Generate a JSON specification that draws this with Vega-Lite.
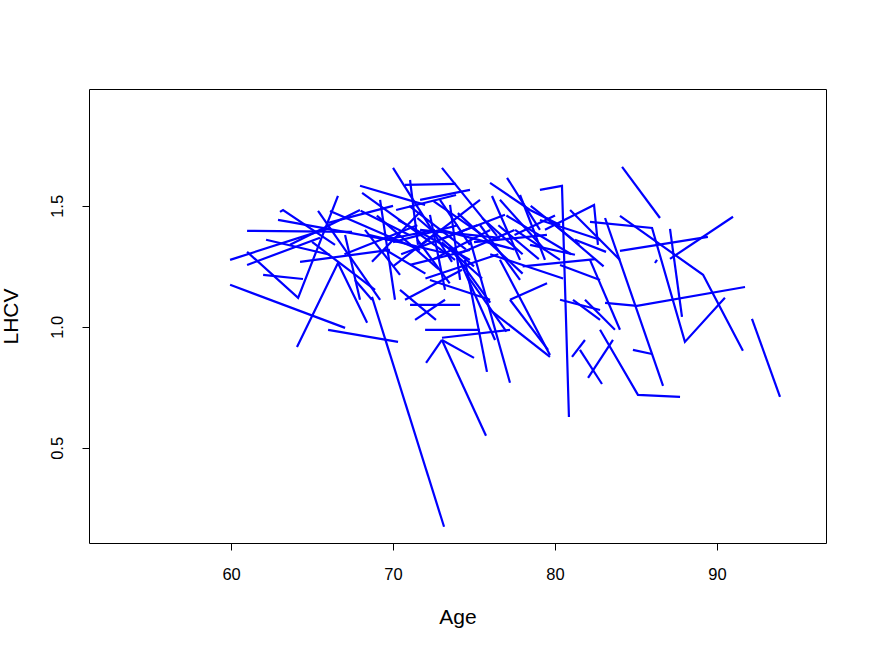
{
  "$schema": "https://vega.github.io/schema/vega-lite/v6.json",
  "width": 737,
  "height": 454,
  "autosize": "none",
  "padding": {"left": 89, "top": 89, "right": 46, "bottom": 111},
  "background": "white",
  "config": {
    "font": "Liberation Sans",
    "view": {"stroke": "black", "strokeWidth": 1},
    "axis": {"grid": false, "domain": false, "tickColor": "black", "tickSize": 7, "tickWidth": 1,
             "labelColor": "black", "titleColor": "black", "labelFont": "Liberation Sans", "titleFont": "Liberation Sans",
             "labelFontSize": 16.5, "titleFontSize": 21, "titleFontWeight": "normal"}
  },
  "data": {"values": [
    {"id":1,"age":59.94,"lhcv":1.174},{"id":1,"age":67.04,"lhcv":0.996},
    {"id":2,"age":65.99,"lhcv":0.988},{"id":2,"age":70.31,"lhcv":0.938},
    {"id":3,"age":64.07,"lhcv":0.917},{"id":3,"age":66.6,"lhcv":1.264},{"id":3,"age":68.4,"lhcv":1.017},
    {"id":4,"age":60.99,"lhcv":1.31},{"id":4,"age":64.14,"lhcv":1.12},{"id":4,"age":66.6,"lhcv":1.541},
    {"id":5,"age":59.94,"lhcv":1.277},{"id":5,"age":66.11,"lhcv":1.409},
    {"id":6,"age":60.99,"lhcv":1.397},{"id":6,"age":67.47,"lhcv":1.393},
    {"id":7,"age":61.98,"lhcv":1.215},{"id":7,"age":64.44,"lhcv":1.198},
    {"id":8,"age":63.02,"lhcv":1.475},{"id":8,"age":63.21,"lhcv":1.483},{"id":8,"age":66.42,"lhcv":1.339},
    {"id":9,"age":60.99,"lhcv":1.256},{"id":9,"age":65.49,"lhcv":1.368},
    {"id":10,"age":62.9,"lhcv":1.442},{"id":10,"age":70.43,"lhcv":1.351},
    {"id":11,"age":63.64,"lhcv":1.339},{"id":11,"age":67.96,"lhcv":1.483},
    {"id":12,"age":64.26,"lhcv":1.269},{"id":12,"age":69.81,"lhcv":1.318},
    {"id":13,"age":62.16,"lhcv":1.36},{"id":13,"age":66.11,"lhcv":1.298},
    {"id":14,"age":65.0,"lhcv":1.351},{"id":14,"age":68.89,"lhcv":1.153},
    {"id":15,"age":65.37,"lhcv":1.479},{"id":15,"age":69.2,"lhcv":1.112},
    {"id":16,"age":66.11,"lhcv":1.479},{"id":16,"age":71.67,"lhcv":1.318},
    {"id":17,"age":67.04,"lhcv":1.38},{"id":17,"age":67.96,"lhcv":1.112},
    {"id":18,"age":67.65,"lhcv":1.194},{"id":18,"age":68.7,"lhcv":1.112},
    {"id":19,"age":67.96,"lhcv":1.583},{"id":19,"age":71.98,"lhcv":1.504},
    {"id":20,"age":68.09,"lhcv":1.554},{"id":20,"age":73.83,"lhcv":1.277},
    {"id":21,"age":68.7,"lhcv":1.124},{"id":21,"age":73.15,"lhcv":0.174},
    {"id":22,"age":68.27,"lhcv":1.401},{"id":22,"age":70.43,"lhcv":1.215},
    {"id":23,"age":68.7,"lhcv":1.269},{"id":23,"age":71.67,"lhcv":1.475},
    {"id":24,"age":69.2,"lhcv":1.525},{"id":24,"age":70.12,"lhcv":1.112},
    {"id":25,"age":69.51,"lhcv":1.36},{"id":25,"age":72.59,"lhcv":1.401},
    {"id":26,"age":70.0,"lhcv":1.657},{"id":26,"age":73.64,"lhcv":1.269},
    {"id":27,"age":73.02,"lhcv":1.657},{"id":27,"age":76.42,"lhcv":1.376},
    {"id":28,"age":71.05,"lhcv":1.607},{"id":28,"age":71.54,"lhcv":1.339},
    {"id":29,"age":70.74,"lhcv":1.587},{"id":29,"age":73.89,"lhcv":1.591},
    {"id":30,"age":71.67,"lhcv":1.525},{"id":30,"age":74.75,"lhcv":1.566},
    {"id":31,"age":70.19,"lhcv":1.483},{"id":31,"age":73.89,"lhcv":1.545},
    {"id":32,"age":70.31,"lhcv":1.442},{"id":32,"age":74.75,"lhcv":1.277},
    {"id":33,"age":71.36,"lhcv":1.318},{"id":33,"age":75.37,"lhcv":1.525},
    {"id":34,"age":72.28,"lhcv":1.463},{"id":34,"age":73.21,"lhcv":1.153},
    {"id":35,"age":72.9,"lhcv":1.525},{"id":35,"age":74.75,"lhcv":1.339},
    {"id":36,"age":71.67,"lhcv":1.401},{"id":36,"age":76.6,"lhcv":1.368},
    {"id":37,"age":72.9,"lhcv":1.36},{"id":37,"age":76.91,"lhcv":1.463},
    {"id":38,"age":73.52,"lhcv":1.504},{"id":38,"age":74.14,"lhcv":1.194},
    {"id":39,"age":71.05,"lhcv":1.256},{"id":39,"age":74.75,"lhcv":1.318},
    {"id":40,"age":72.28,"lhcv":1.194},{"id":40,"age":75.99,"lhcv":1.112},
    {"id":41,"age":70.74,"lhcv":1.112},{"id":41,"age":74.26,"lhcv":1.236},
    {"id":42,"age":70.43,"lhcv":1.153},{"id":42,"age":72.65,"lhcv":1.029},
    {"id":43,"age":71.36,"lhcv":1.029},{"id":43,"age":73.21,"lhcv":1.112},
    {"id":44,"age":71.98,"lhcv":0.988},{"id":44,"age":75.37,"lhcv":0.988},
    {"id":45,"age":73.02,"lhcv":0.946},{"id":45,"age":75.74,"lhcv":0.55},
    {"id":46,"age":72.04,"lhcv":0.851},{"id":46,"age":73.02,"lhcv":0.946},
    {"id":47,"age":73.02,"lhcv":0.946},{"id":47,"age":75.0,"lhcv":0.872},
    {"id":48,"age":73.83,"lhcv":1.318},{"id":48,"age":76.3,"lhcv":0.946},
    {"id":49,"age":74.44,"lhcv":1.277},{"id":49,"age":75.8,"lhcv":0.814},
    {"id":50,"age":74.75,"lhcv":1.36},{"id":50,"age":77.22,"lhcv":0.769},
    {"id":51,"age":75.37,"lhcv":1.421},{"id":51,"age":77.84,"lhcv":1.194},
    {"id":52,"age":75.99,"lhcv":1.595},{"id":52,"age":78.46,"lhcv":1.483},{"id":52,"age":80.31,"lhcv":1.421},
    {"id":53,"age":76.11,"lhcv":1.541},{"id":53,"age":77.84,"lhcv":1.277},
    {"id":54,"age":77.04,"lhcv":1.616},{"id":54,"age":79.07,"lhcv":1.401},
    {"id":55,"age":76.6,"lhcv":1.525},{"id":55,"age":79.38,"lhcv":1.318},
    {"id":56,"age":77.84,"lhcv":1.545},{"id":56,"age":79.38,"lhcv":1.277},
    {"id":57,"age":79.07,"lhcv":1.566},{"id":57,"age":80.43,"lhcv":1.583},{"id":57,"age":80.86,"lhcv":0.628},
    {"id":58,"age":77.53,"lhcv":1.401},{"id":58,"age":80.31,"lhcv":1.277},
    {"id":59,"age":78.46,"lhcv":1.339},{"id":59,"age":81.23,"lhcv":1.298},
    {"id":60,"age":76.6,"lhcv":1.277},{"id":60,"age":79.69,"lhcv":0.884},
    {"id":61,"age":77.22,"lhcv":1.112},{"id":61,"age":79.57,"lhcv":0.905},
    {"id":62,"age":79.07,"lhcv":1.442},{"id":62,"age":82.78,"lhcv":1.36},
    {"id":63,"age":79.38,"lhcv":1.401},{"id":63,"age":82.41,"lhcv":1.504},{"id":63,"age":82.65,"lhcv":1.339},
    {"id":64,"age":80.31,"lhcv":1.256},{"id":64,"age":82.78,"lhcv":1.194},
    {"id":65,"age":80.93,"lhcv":1.483},{"id":65,"age":84.01,"lhcv":1.277},
    {"id":66,"age":81.23,"lhcv":1.36},{"id":66,"age":83.15,"lhcv":1.31},
    {"id":67,"age":81.05,"lhcv":0.876},{"id":67,"age":81.85,"lhcv":0.946},
    {"id":68,"age":82.04,"lhcv":0.789},{"id":68,"age":83.58,"lhcv":0.946},
    {"id":69,"age":81.54,"lhcv":0.905},{"id":69,"age":82.9,"lhcv":0.764},
    {"id":70,"age":82.16,"lhcv":1.434},{"id":70,"age":85.99,"lhcv":1.409},{"id":70,"age":88.02,"lhcv":0.938},{"id":70,"age":90.49,"lhcv":1.12},
    {"id":71,"age":84.01,"lhcv":1.459},{"id":71,"age":89.14,"lhcv":1.215},{"id":71,"age":91.6,"lhcv":0.901},
    {"id":72,"age":83.09,"lhcv":1.099},{"id":72,"age":85.06,"lhcv":1.087},{"id":72,"age":91.73,"lhcv":1.165},
    {"id":73,"age":84.14,"lhcv":1.661},{"id":73,"age":86.48,"lhcv":1.45},
    {"id":74,"age":92.16,"lhcv":1.033},{"id":74,"age":93.89,"lhcv":0.711},
    {"id":75,"age":87.1,"lhcv":1.405},{"id":75,"age":87.84,"lhcv":1.041},
    {"id":76,"age":87.1,"lhcv":1.281},{"id":76,"age":90.99,"lhcv":1.455},
    {"id":77,"age":84.01,"lhcv":1.314},{"id":77,"age":89.44,"lhcv":1.372},
    {"id":78,"age":82.78,"lhcv":0.988},{"id":78,"age":85.12,"lhcv":0.719},{"id":78,"age":87.72,"lhcv":0.711},
    {"id":79,"age":84.81,"lhcv":0.905},{"id":79,"age":85.99,"lhcv":0.888},
    {"id":80,"age":86.17,"lhcv":1.264},{"id":80,"age":86.3,"lhcv":1.277},
    {"id":81,"age":83.09,"lhcv":1.45},{"id":81,"age":86.67,"lhcv":0.756},
    {"id":82,"age":82.16,"lhcv":1.277},{"id":82,"age":84.01,"lhcv":0.988},
    {"id":83,"age":81.85,"lhcv":1.112},{"id":83,"age":83.7,"lhcv":0.988},
    {"id":84,"age":80.31,"lhcv":1.112},{"id":84,"age":82.78,"lhcv":1.07},
    {"id":85,"age":71.05,"lhcv":1.091},{"id":85,"age":74.14,"lhcv":1.091},
    {"id":86,"age":73.02,"lhcv":0.955},{"id":86,"age":77.22,"lhcv":0.988},
    {"id":87,"age":81.11,"lhcv":1.112},{"id":87,"age":82.78,"lhcv":1.029},
    {"id":88,"age":77.22,"lhcv":1.112},{"id":88,"age":79.51,"lhcv":1.18},
    {"id":89,"age":75.99,"lhcv":1.07},{"id":89,"age":79.69,"lhcv":0.876},
    {"id":90,"age":68.5,"lhcv":1.38},{"id":90,"age":73.5,"lhcv":1.30},
    {"id":91,"age":69.0,"lhcv":1.46},{"id":91,"age":72.8,"lhcv":1.24},
    {"id":92,"age":70.5,"lhcv":1.30},{"id":92,"age":75.2,"lhcv":1.42},
    {"id":93,"age":71.5,"lhcv":1.45},{"id":93,"age":75.0,"lhcv":1.25},
    {"id":94,"age":72.0,"lhcv":1.20},{"id":94,"age":76.5,"lhcv":1.30},
    {"id":95,"age":73.0,"lhcv":1.40},{"id":95,"age":77.5,"lhcv":1.32},
    {"id":96,"age":74.0,"lhcv":1.47},{"id":96,"age":78.0,"lhcv":1.22},
    {"id":97,"age":75.0,"lhcv":1.35},{"id":97,"age":79.5,"lhcv":1.38},
    {"id":98,"age":76.0,"lhcv":1.30},{"id":98,"age":80.5,"lhcv":1.20},
    {"id":99,"age":77.0,"lhcv":1.46},{"id":99,"age":81.0,"lhcv":1.30},
    {"id":100,"age":78.0,"lhcv":1.25},{"id":100,"age":82.5,"lhcv":1.28},
    {"id":101,"age":66.0,"lhcv":1.43},{"id":101,"age":70.0,"lhcv":1.50},
    {"id":102,"age":67.0,"lhcv":1.30},{"id":102,"age":71.5,"lhcv":1.42},
    {"id":103,"age":73.5,"lhcv":1.33},{"id":103,"age":76.0,"lhcv":1.10},
    {"id":104,"age":74.5,"lhcv":1.22},{"id":104,"age":77.0,"lhcv":0.98},
    {"id":105,"age":70.0,"lhcv":1.25},{"id":105,"age":72.5,"lhcv":1.38},
    {"id":106,"age":78.5,"lhcv":1.50},{"id":106,"age":81.5,"lhcv":1.34},
    {"id":107,"age":79.5,"lhcv":1.45},{"id":107,"age":83.0,"lhcv":1.25},
    {"id":108,"age":70.0,"lhcv":1.35},{"id":108,"age":74.0,"lhcv":1.42},
    {"id":109,"age":71.0,"lhcv":1.50},{"id":109,"age":74.5,"lhcv":1.32},
    {"id":110,"age":72.5,"lhcv":1.28},{"id":110,"age":76.0,"lhcv":1.40},
    {"id":111,"age":73.0,"lhcv":1.35},{"id":111,"age":75.5,"lhcv":1.20},
    {"id":112,"age":74.0,"lhcv":1.30},{"id":112,"age":77.5,"lhcv":1.40},
    {"id":113,"age":75.5,"lhcv":1.45},{"id":113,"age":78.0,"lhcv":1.30},
    {"id":114,"age":76.5,"lhcv":1.42},{"id":114,"age":79.0,"lhcv":1.28},
    {"id":115,"age":69.5,"lhcv":1.32},{"id":115,"age":72.0,"lhcv":1.22},
    {"id":116,"age":71.5,"lhcv":1.36},{"id":116,"age":73.5,"lhcv":1.18},
    {"id":117,"age":72.5,"lhcv":1.52},{"id":117,"age":75.5,"lhcv":1.38},
    {"id":118,"age":77.5,"lhcv":1.38},{"id":118,"age":80.0,"lhcv":1.46},
    {"id":119,"age":68.0,"lhcv":1.48},{"id":119,"age":71.0,"lhcv":1.38}
  ]},
  "mark": {"type": "line", "color": "#0000ff", "strokeWidth": 2.2, "clip": true},
  "encoding": {
    "detail": {"field": "id", "type": "nominal"},
    "x": {"field": "age", "type": "quantitative",
          "scale": {"domain": [51.23, 96.73], "nice": false, "zero": false},
          "axis": {"values": [60, 70, 80, 90], "title": "Age", "labelPadding": 16, "titlePadding": 24}},
    "y": {"field": "lhcv", "type": "quantitative",
          "scale": {"domain": [0.107, 1.983], "nice": false, "zero": false},
          "axis": {"values": [0.5, 1.0, 1.5], "format": ".1f", "title": "LHCV", "labelAngle": -90,
                   "labelAlign": "center", "labelBaseline": "bottom", "labelPadding": 17, "titlePadding": 28}}
  }
}
